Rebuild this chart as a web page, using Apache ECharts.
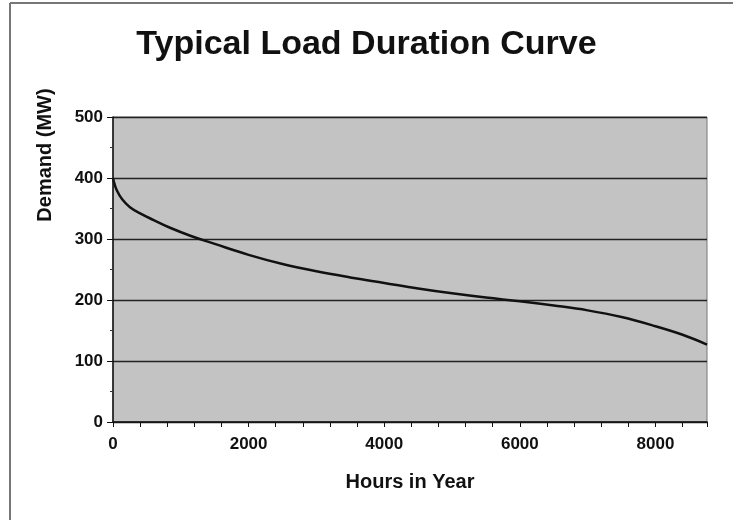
<!DOCTYPE html>
<html>
<head>
<meta charset="utf-8">
<script src="https://cdn.jsdelivr.net/npm/echarts@6/dist/echarts.min.js"></script>
<style>
html,body{margin:0;padding:0;background:#fff;}
#chart{width:733px;height:520px;}
</style>
</head>
<body>
<div id="chart"></div>
<script>
// Data
var hours = [0, 20, 60, 135, 250, 400, 600, 850, 1150, 1500, 2000, 2500, 3000, 3500, 4000, 4500, 5000, 5500, 6000, 6500, 7000, 7500, 8000, 8400, 8760];
var demandMW = [400, 391, 379, 365, 352, 342, 331, 318, 305, 292, 274, 259, 247, 237, 228, 219, 211, 204, 198, 191, 183, 172, 157, 143, 127];
var xTickLabels = [0, 2000, 4000, 6000, 8000];
var yTickLabels = [0, 100, 200, 300, 400, 500];

var titleText = 'Typical Load Duration Curve';
var xName = 'Hours in Year';
var yName = 'Demand (MW)';

var seriesData = hours.map(function (h, i) { return [h, demandMW[i]]; });
var FONT = 'Liberation Sans, Arial, sans-serif';

var chart = echarts.init(document.getElementById('chart'), null, {renderer: 'canvas'});
chart.setOption({
  backgroundColor: '#ffffff',
  animation: false,
  title: {
    text: titleText,
    left: 'center',
    top: 23,
    textStyle: {fontFamily: FONT, fontWeight: 'bold', fontSize: 34, color: '#111'}
  },
  grid: {
    left: 113, right: 26, top: 117, bottom: 98,
    show: true,
    backgroundColor: '#c3c3c3',
    borderColor: '#777',
    borderWidth: 1
  },
  xAxis: {
    type: 'value',
    min: 0,
    max: 8760,
    interval: 400,
    name: xName,
    nameLocation: 'middle',
    nameGap: 50,
    nameTextStyle: {fontFamily: FONT, fontWeight: 'bold', fontSize: 20, color: '#111'},
    axisLine: {show: true, lineStyle: {color: '#111', width: 1.5}},
    axisTick: {show: true, length: 5, lineStyle: {color: '#111'}},
    splitLine: {show: false},
    axisLabel: {
      margin: 14,
      fontFamily: FONT, fontWeight: 'bold', fontSize: 17, color: '#111',
      formatter: function (v) { return xTickLabels.indexOf(v) >= 0 ? String(v) : ''; }
    }
  },
  yAxis: {
    type: 'value',
    min: 0,
    max: 500,
    interval: 100,
    axisLine: {show: true, lineStyle: {color: '#111', width: 1.5}},
    axisTick: {show: true, length: 6, lineStyle: {color: '#111'}},
    minorTick: {show: true, splitNumber: 2, length: 3, lineStyle: {color: '#333'}},
    splitLine: {show: true, lineStyle: {color: '#222', width: 1.4}},
    axisLabel: {
      margin: 10,
      fontFamily: FONT, fontWeight: 'bold', fontSize: 17, color: '#111',
      formatter: function (v) { return yTickLabels.indexOf(v) >= 0 ? String(v) : ''; }
    }
  },
  graphic: [
    {type: 'line', shape: {x1: 10, y1: 3, x2: 733, y2: 3}, style: {stroke: '#777', lineWidth: 2}},
    {type: 'line', shape: {x1: 10, y1: 3, x2: 10, y2: 520}, style: {stroke: '#777', lineWidth: 2}},
    {
      type: 'text',
      x: 45, y: 155,
      rotation: Math.PI / 2,
      style: {
        text: yName,
        fontFamily: FONT, fontWeight: 'bold', fontSize: 20, fill: '#111',
        textAlign: 'center', textVerticalAlign: 'middle'
      }
    }
  ],
  series: [{
    type: 'line',
    data: seriesData,
    smooth: 0.4,
    showSymbol: false,
    lineStyle: {color: '#111', width: 2.5}
  }]
});
</script>
</body>
</html>
